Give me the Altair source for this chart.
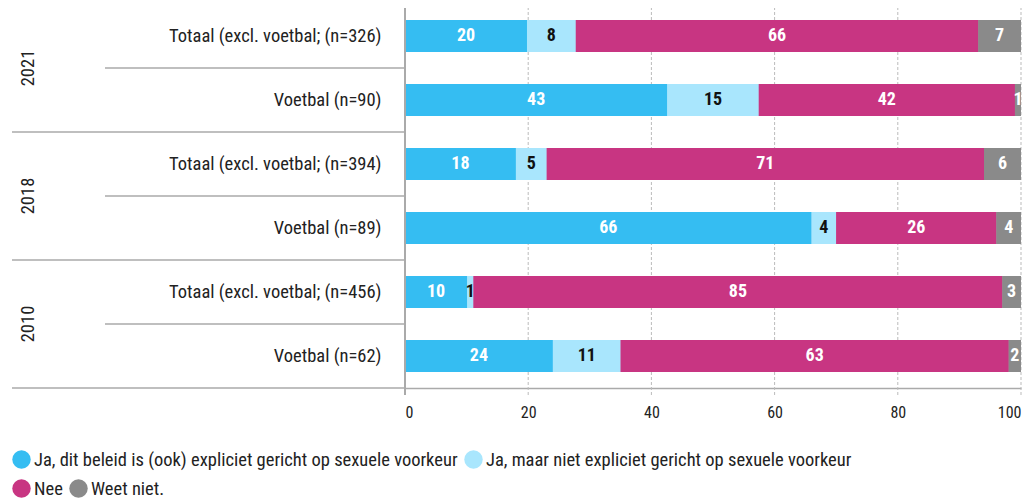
import altair as alt
import pandas as pd

FONT = "Roboto Condensed, Liberation Sans Narrow, DejaVu Sans Condensed, sans-serif"

years = ["2021", "2021", "2018", "2018", "2010", "2010"]
rows = [
    "Totaal (excl. voetbal; (n=326)",
    "Voetbal (n=90)",
    "Totaal (excl. voetbal; (n=394)",
    "Voetbal (n=89)",
    "Totaal (excl. voetbal; (n=456)",
    "Voetbal (n=62)",
]
kinds = ["Totaal", "Voetbal", "Totaal", "Voetbal", "Totaal", "Voetbal"]
categories = [
    "Ja, dit beleid is (ook) expliciet gericht op sexuele voorkeur",
    "Ja, maar niet expliciet gericht op sexuele voorkeur",
    "Nee",
    "Weet niet.",
]
colors = ["#35BDF2", "#A9E6FD", "#C83582", "#8A8A8A"]
ja_expliciet = [20, 43, 18, 66, 10, 24]
ja_niet_expliciet = [8, 15, 5, 4, 1, 11]
nee = [66, 42, 71, 26, 85, 63]
weet_niet = [7, 1, 6, 4, 3, 2]
x_ticks = [0, 20, 40, 60, 80, 100]

series = [ja_expliciet, ja_niet_expliciet, nee, weet_niet]
records = []
for ci, (cat, vals) in enumerate(zip(categories, series)):
    for ri, r in enumerate(rows):
        records.append({"row": r, "year": years[ri], "kind": kinds[ri],
                        "cat": cat, "cat_idx": ci, "value": vals[ri]})
df = pd.DataFrame(records)
rows_df = pd.DataFrame({"row": rows, "year": years, "kind": kinds})
grid_df = pd.DataFrame({"tick": x_ticks[1:]})

yscale = alt.Scale(domain=rows, paddingInner=0, paddingOuter=0)
xscale = alt.Scale(domain=[0, 100], nice=False)

x_axis = alt.Axis(values=x_ticks, ticks=False, tickSize=0, grid=False, domain=True,
                  domainColor="#AAAAAA", domainWidth=1.5, labelFont=FONT, labelFontSize=16,
                  labelColor="#222222", labelPadding=16, format="d", title=None)
y_axis = alt.Axis(ticks=False, domain=False, labelFont=FONT, labelFontSize=18.5,
                  labelColor="#222222", labelPadding=24, labelLimit=400, title=None)

legend_common = dict(title=None, orient="none", direction="horizontal",
                     symbolType="circle", symbolSize=340, symbolStrokeWidth=0,
                     labelFont=FONT, labelFontSize=18.5, labelColor="#222222",
                     labelLimit=700, labelOffset=3, columnPadding=6, padding=0)

base = alt.Chart(df).transform_joinaggregate(
    total="sum(value)", groupby=["row"]
).transform_calculate(
    pct="datum.value / datum.total * 100"
).transform_stack(
    stack="pct", as_=["x0", "x1"], groupby=["row"],
    sort=[alt.SortField("cat_idx", order="ascending")]
).transform_calculate(
    mid="(datum.x0 + datum.x1) / 2"
)

grid = alt.Chart(grid_df).mark_rule(color="#BBBBBB", strokeDash=[3, 2], strokeWidth=1).encode(
    x=alt.X("tick:Q", scale=xscale, axis=x_axis),
    y=alt.value(3), y2=alt.value(391),
)

# second legend row (Nee / Weet niet.) carried by an identical bar layer underneath
bars_under = base.mark_bar(size=32).encode(
    y=alt.Y("row:N", scale=yscale, sort=rows, axis=y_axis),
    x=alt.X("x0:Q", scale=xscale, axis=x_axis),
    x2="x1:Q",
    fill=alt.Fill("cat:N", scale=alt.Scale(domain=categories[::-1], range=colors[::-1]),
                  legend=alt.Legend(values=categories[2:], legendX=-393, legendY=475,
                                    **legend_common)),
)

bars = base.mark_bar(size=32).encode(
    y=alt.Y("row:N", scale=yscale, sort=rows, axis=y_axis),
    x=alt.X("x0:Q", scale=xscale, axis=x_axis),
    x2="x1:Q",
    color=alt.Color("cat:N", scale=alt.Scale(domain=categories, range=colors),
                    legend=alt.Legend(values=categories[:2], legendX=-393, legendY=446,
                                      **legend_common)),
)

labels = base.mark_text(font=FONT, fontSize=18, fontWeight="bold").encode(
    y=alt.Y("row:N", scale=yscale, sort=rows),
    x=alt.X("mid:Q", scale=xscale),
    text=alt.Text("value:Q", format="d"),
    color=alt.condition(alt.datum.cat_idx == 1, alt.value("#111111"), alt.value("#FFFFFF")),
)

yline = alt.Chart(rows_df).mark_rule(color="#AAAAAA", strokeWidth=1.5).encode(
    x=alt.value(0), y=alt.value(3), y2=alt.value(391)
)

sep_sub = alt.Chart(rows_df).transform_filter(alt.datum.kind == "Totaal").mark_rule(
    color="#AAAAAA", strokeWidth=1.5).encode(
    y=alt.Y("row:N", scale=yscale, sort=rows, bandPosition=1),
    x=alt.value(-300), x2=alt.value(0),
)
sep_group = alt.Chart(rows_df).transform_filter(alt.datum.kind == "Voetbal").mark_rule(
    color="#AAAAAA", strokeWidth=1.5).encode(
    y=alt.Y("row:N", scale=yscale, sort=rows, bandPosition=1),
    x=alt.value(-393), x2=alt.value(0),
)

year_text = alt.Chart(rows_df).transform_filter(alt.datum.kind == "Voetbal").mark_text(
    font=FONT, fontSize=18.5, angle=270, align="center", baseline="middle", color="#222222").encode(
    y=alt.Y("row:N", scale=yscale, sort=rows, bandPosition=0),
    x=alt.value(-377),
    text="year:N",
)

chart = alt.layer(grid, bars_under, bars, labels, yline, sep_sub, sep_group, year_text).properties(
    width=616, height=384,
    padding={"left": 397, "top": -4, "right": 1, "bottom": 113},
    autosize=alt.AutoSizeParams(type="none"),
).configure_view(stroke=None)

chart.save("out.html", embed_options={"renderer": "svg", "actions": False})
